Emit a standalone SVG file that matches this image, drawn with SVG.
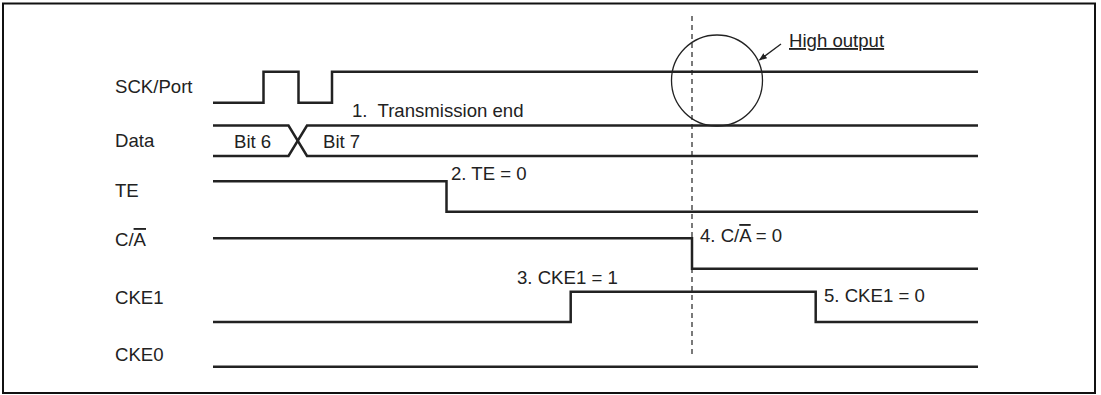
<svg xmlns="http://www.w3.org/2000/svg" width="1101" height="395" viewBox="0 0 1101 395">
<style>
text { font-family: "Liberation Sans", Arial, sans-serif; font-size: 18.6px; fill: #222; }
.sig { fill: none; stroke: #222; stroke-width: 2.5; stroke-linejoin: miter; }
.thin { fill: none; stroke: #222; stroke-width: 1.3; }
.dash { fill: none; stroke: #222; stroke-width: 1.2; stroke-dasharray: 5 4; }
</style>
<defs>
<marker id="arrow" viewBox="0 0 10 10" refX="9" refY="5" markerWidth="8" markerHeight="8" markerUnits="userSpaceOnUse" orient="auto">
<path d="M0,1 L10,5 L0,9 Z" fill="#222"/>
</marker>
</defs>
<rect x="3" y="3.5" width="1092" height="389.5" fill="#fff" stroke="#111" stroke-width="2"/>

<g id="labels">
<text x="115" y="93">SCK/Port</text>
<text x="115" y="147">Data</text>
<text x="115" y="197">TE</text>
<text x="115" y="246">C/<tspan text-decoration="overline">A</tspan></text>
<text x="115" y="304">CKE1</text>
<text x="115" y="361">CKE0</text>
</g>

<g id="sck">
<path class="sig" d="M213,102.7 H263.5 V71.7 H298.5 V102.7 H332 V71.7 H978"/>
</g>
<g id="data">
<path class="sig" d="M213,125.5 H288.5 L307,156 H978"/>
<path class="sig" d="M213,156 H288.5 L307,125.5 H978"/>
<text x="234" y="147.5">Bit 6</text>
<text x="323" y="147.5">Bit 7</text>
</g>
<g id="te">
<path class="sig" d="M213,181.2 H446.5 V211.7 H978"/>
</g>
<g id="ca">
<path class="sig" d="M213,238.2 H692 V268.7 H978"/>
</g>
<g id="cke1">
<path class="sig" d="M213,322 H570.7 V291.7 H815.7 V322 H978"/>
</g>
<g id="cke0">
<path class="sig" d="M213,366.7 H978"/>
</g>

<g id="annotations">
<text x="352" y="116.5" xml:space="preserve">1.  Transmission end</text>
<text x="451" y="180">2. TE = 0</text>
<text x="517" y="284">3. CKE1 = 1</text>
<text x="700" y="242">4. C/<tspan text-decoration="overline">A</tspan> = 0</text>
<text x="824" y="301.5">5. CKE1 = 0</text>
</g>

<g id="high-output">
<circle class="thin" cx="717" cy="80.5" r="45.5"/>
<text x="789" y="47" text-decoration="underline">High output</text>
</g>

<g id="connectors">
<line class="dash" x1="692" y1="16" x2="692" y2="357"/>
<line class="thin" x1="781" y1="44" x2="759.5" y2="60" marker-end="url(#arrow)"/>
</g>
</svg>
